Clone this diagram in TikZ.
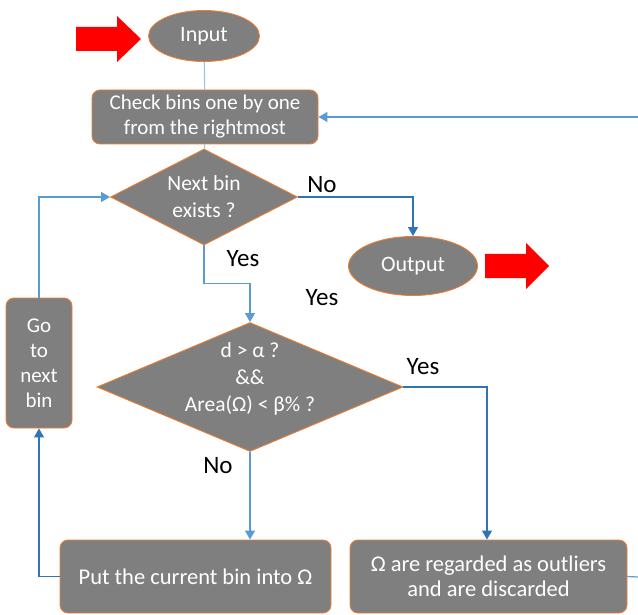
\documentclass[tikz,border=0pt]{standalone}
\usepackage{fontspec}
\setmainfont{Carlito}
\usetikzlibrary{arrows.meta,shapes.geometric}

\definecolor{boxgray}{RGB}{127,127,127}
\definecolor{boxedge}{RGB}{237,125,49}
\definecolor{paleblue}{RGB}{157,195,230}
\definecolor{lineblue}{RGB}{91,155,213}
\definecolor{darkblue}{RGB}{46,117,182}

\tikzset{
  block/.style={draw=boxedge, line width=0.9pt, fill=boxgray, text=white,
    rounded corners=8pt, align=center, inner sep=0pt,
    font=\fontsize{21}{25}\selectfont},
  terminal/.style={ellipse, draw=boxedge, line width=0.9pt, fill=boxgray,
    text=white, inner sep=0pt, font=\fontsize{22}{25}\selectfont},
  decision/.style={diamond, draw=boxedge, line width=0.9pt, fill=boxgray,
    inner sep=0pt},
  inside/.style={text=white, align=center, font=\fontsize{21.5}{27}\selectfont},
  answer/.style={font=\fontsize{25}{30}\selectfont},
  flow/.style={draw=lineblue, line width=1.2pt,
    -{Triangle[length=9pt,width=10pt]}},
  flowdark/.style={flow, draw=darkblue},
  plain/.style={draw=paleblue, line width=1.2pt},
}

\begin{document}
\begin{tikzpicture}[x=1pt,y=-1pt]
\useasboundingbox (0,0) rectangle (638,615);

\node[terminal, minimum width=111pt, minimum height=51pt] (input) at (204,36) {Input};
\node[block, minimum width=226pt, minimum height=54pt] (check) at (205,117)
  {Check bins one by one\\from the rightmost};
\node[decision, minimum width=187pt, minimum height=96pt] (exists) at (204,197) {};
\node[inside] (existstxt) at (exists) {Next bin\\exists ?};
\node[terminal, minimum width=129pt, minimum height=59pt] (output) at (413,266) {Output};
\node[decision, minimum width=306pt, minimum height=129pt] (test) at (250,387) {};
\node[inside] (testtxt) at ([yshift=8pt]test.center) {d > α ?\\\&\&\\Area(Ω) < β\% ?};
\node[block, minimum width=66pt, minimum height=130pt] (go) at (39,363) {Go\\to\\next\\bin};
\node[block, minimum width=271pt, minimum height=73pt, font=\fontsize{22.5}{25}\selectfont]
  (put) at (195.5,576.5) {Put the current bin into Ω};
\node[block, minimum width=277pt, minimum height=73pt, font=\fontsize{22.5}{25}\selectfont]
  (discard) at (488.5,576.5) {Ω are regarded as outliers\\and are discarded};

% the red arrows
\fill[red, shift={(76,39)}] (0,-12) -- (41,-12) -- (41,-23) -- (65,0) -- (41,23)
  -- (41,12) -- (0,12) -- cycle;
\fill[red, shift={(485,266)}] (0,-12) -- (41,-12) -- (41,-23) -- (64,0) -- (41,23)
  -- (41,12) -- (0,12) -- cycle;

% answers
\node[answer] (no1) at (322,185) {No};
\node[answer] (yes1) at (243,259) {Yes};
\node[answer] (yes2) at (322,298) {Yes};
\node[answer] (yes3) at (423,367) {Yes};
\node[answer] (no2) at (218,466) {No};

\coordinate (backin) at (638,117);
\coordinate (backout) at (638,577);

\draw[plain] (input) -- (check);
\draw[plain] (check) -- (exists);
\draw[flow] (exists.south) -- ++(0,38) -| (test.north);
\draw[flowdark] (exists.east) -| (output.north);
\draw[flowdark] (test.east) -| ([xshift=-1.5pt]discard.north);
\draw[flow] (test.south) -- (test.south |- put.north);
\draw[flowdark] (put.west) -| (go.south);
\draw[flow] (go.north) |- (exists.west);
\draw[flow] (backin) -- (check.east);
\draw[draw=lineblue, line width=1.2pt] (discard.east) -- (backout);

\end{tikzpicture}
\end{document}
